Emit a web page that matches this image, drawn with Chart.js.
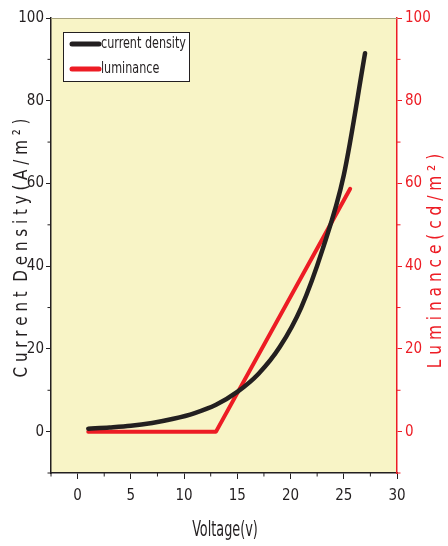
<!DOCTYPE html>
<html>
<head>
<meta charset="utf-8">
<script src="https://cdn.jsdelivr.net/npm/chart.js@4.4.1/dist/chart.umd.min.js"></script>
<style>
  html, body { margin: 0; padding: 0; background: #fff; }
  #wrap { width: 448px; height: 546px; position: relative; }
</style>
</head>
<body>
<div id="wrap"><canvas id="ivl"></canvas></div>
<script>
// --- Data ---
const voltageJ = [1, 3, 5, 7, 9, 11, 13, 15, 17, 19, 21, 23, 25, 27];
const currentDensity = [0.7, 1.0, 1.4, 2.1, 3.1, 4.5, 6.5, 9.6, 14, 20.5, 30, 44, 62, 91.5];

const voltageL = [1, 13, 25.6];
const luminance = [0, 0, 58.7];

const xTickLabels = [0, 5, 10, 15, 20, 25, 30];
const yTickLabels = [0, 20, 40, 60, 80, 100];

const FONT = "'Liberation Sans Narrow', 'DejaVu Sans Condensed', 'DejaVu Sans', sans-serif";
const colors = {
    black: '#231f20',
    red: '#ed1c24',
    plotBg: '#f8f4c6',
    frameTop: '#a8a27c',
};

const toPoints = (xs, ys) => xs.map((x, i) => ({ x, y: ys[i] }));

// major ticks get a visible mark, minor ones are drawn shorter by the plugin
const isMajor = (list, v) => list.some(t => Math.abs(t - v) < 1e-6);

// narrow text: squeeze horizontally so it looks like the condensed face in the figure
function narrowText(ctx, text, x, y, rot, sx) {
    ctx.save();
    ctx.translate(x, y);
    ctx.rotate(rot);
    ctx.scale(sx, 1);
    ctx.fillText(text, 0, 0);
    ctx.restore();
}

// --- Plugins ---
const plotFrame = {
    id: 'plotFrame',
    beforeDraw(chart) {
        const { ctx, chartArea: a } = chart;
        ctx.save();
        ctx.fillStyle = colors.plotBg;
        ctx.fillRect(a.left, a.top, a.right - a.left, a.bottom - a.top);
        ctx.restore();
    },
    afterDraw(chart) {
        const { ctx, chartArea: a, scales } = chart;
        ctx.save();
        // top edge
        ctx.strokeStyle = colors.frameTop;
        ctx.lineWidth = 1.2;
        ctx.beginPath();
        ctx.moveTo(a.left, a.top + 0.5);
        ctx.lineTo(a.right, a.top + 0.5);
        ctx.stroke();

        // minor ticks
        const minor = (scale, list, color, draw) => {
            ctx.strokeStyle = color;
            ctx.lineWidth = 1;
            scale.ticks.forEach(t => {
                if (isMajor(list, t.value)) return;
                const p = scale.getPixelForValue(t.value);
                ctx.beginPath();
                draw(p);
                ctx.stroke();
            });
        };
        minor(scales.x, xTickLabels, colors.black, p => { ctx.moveTo(p, a.bottom); ctx.lineTo(p, a.bottom + 3.5); });
        minor(scales.y, yTickLabels, colors.black, p => { ctx.moveTo(a.left, p); ctx.lineTo(a.left - 3.5, p); });
        minor(scales.y2, yTickLabels, colors.red, p => { ctx.moveTo(a.right, p); ctx.lineTo(a.right + 3.5, p); });

        // axis titles
        ctx.textAlign = 'center';
        ctx.textBaseline = 'middle';
        ctx.fillStyle = colors.black;
        ctx.font = `21px ${FONT}`;
        narrowText(ctx, 'Voltage(v)', 225, 531, 0, 0.68);

        ctx.font = `20px ${FONT}`;
        narrowText(ctx, 'C u r r e n t  D e n s i t y ( A / m ² )', 22, 248, -Math.PI / 2, 0.84);

        ctx.fillStyle = colors.red;
        ctx.font = `19px ${FONT}`;
        narrowText(ctx, 'L u m i n a n c e ( c d / m ² )', 436, 261, -Math.PI / 2, 0.9);

        // legend box
        const box = { x: 63.5, y: 32.5, w: 126, h: 49 };
        ctx.fillStyle = '#fff';
        ctx.fillRect(box.x, box.y, box.w, box.h);
        ctx.strokeStyle = colors.black;
        ctx.lineWidth = 1;
        ctx.strokeRect(box.x, box.y, box.w, box.h);
        ctx.textAlign = 'left';
        ctx.font = `15px ${FONT}`;
        chart.data.datasets.forEach((ds, i) => {
            const y = 44 + i * 25;
            ctx.strokeStyle = ds.borderColor;
            ctx.lineWidth = 5;
            ctx.lineCap = 'round';
            ctx.beginPath();
            ctx.moveTo(72, y);
            ctx.lineTo(99, y);
            ctx.stroke();
            ctx.fillStyle = colors.black;
            narrowText(ctx, ds.label, 101, y, 0, 0.83);
        });
        ctx.restore();
    },
};

// --- Chart ---
new Chart(document.getElementById('ivl'), {
    type: 'scatter',
    data: {
        datasets: [
            {
                label: 'current density',
                data: toPoints(voltageJ, currentDensity),
                showLine: true,
                borderColor: colors.black,
                borderWidth: 4.5,
                cubicInterpolationMode: 'monotone',
                pointRadius: 0,
                borderCapStyle: 'round',
                yAxisID: 'y',
            },
            {
                label: 'luminance',
                data: toPoints(voltageL, luminance),
                showLine: true,
                borderColor: colors.red,
                borderWidth: 4,
                pointRadius: 0,
                borderCapStyle: 'round',
                borderJoinStyle: 'round',
                yAxisID: 'y2',
            },
        ],
    },
    options: {
        responsive: true,
        maintainAspectRatio: false,
        animation: false,
        layout: { padding: { top: 18, left: 0, right: 0, bottom: 0 } },
        plugins: {
            legend: { display: false },
            tooltip: { enabled: false },
        },
        scales: {
            x: {
                type: 'linear',
                min: -2.5,
                max: 30,
                afterFit: s => { s.height = 73; },
                border: { color: colors.black, width: 1.5 },
                grid: {
                    drawOnChartArea: false,
                    tickLength: 6,
                    tickColor: c => isMajor(xTickLabels, c.tick.value) ? colors.black : 'rgba(0,0,0,0)',
                },
                ticks: {
                    stepSize: 2.5,
                    padding: 8,
                    color: colors.black,
                    font: { family: FONT, size: 15 },
                    callback: v => isMajor(xTickLabels, v) ? v : '',
                },
            },
            y: {
                position: 'left',
                min: -10,
                max: 100,
                afterFit: s => { s.width = 51; },
                border: { color: colors.black, width: 1.5 },
                grid: {
                    drawOnChartArea: false,
                    tickLength: 5,
                    tickColor: c => isMajor(yTickLabels, c.tick.value) ? colors.black : 'rgba(0,0,0,0)',
                },
                ticks: {
                    stepSize: 10,
                    padding: 2,
                    color: colors.black,
                    font: { family: FONT, size: 15 },
                    callback: v => isMajor(yTickLabels, v) ? v : '',
                },
            },
            y2: {
                position: 'right',
                min: -10,
                max: 100,
                afterFit: s => { s.width = 51; },
                border: { color: colors.red, width: 1.5 },
                grid: {
                    drawOnChartArea: false,
                    tickLength: 5,
                    tickColor: c => isMajor(yTickLabels, c.tick.value) ? colors.red : 'rgba(0,0,0,0)',
                },
                ticks: {
                    stepSize: 10,
                    padding: 3,
                    color: colors.red,
                    font: { family: FONT, size: 15 },
                    callback: v => isMajor(yTickLabels, v) ? v : '',
                },
            },
        },
    },
    plugins: [plotFrame],
});
</script>
</body>
</html>
